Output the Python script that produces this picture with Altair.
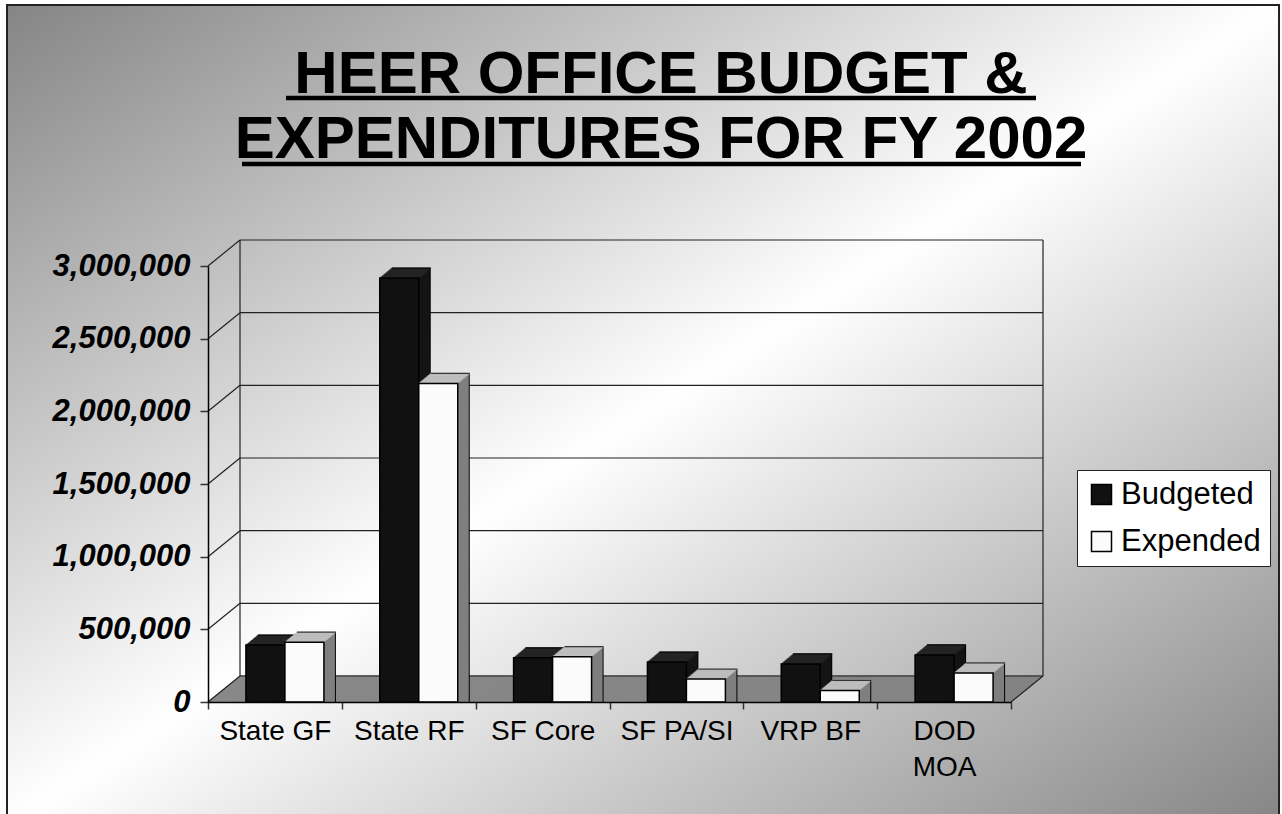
import altair as alt
import pandas as pd

# ---------------- data ----------------
CATEGORIES = ["State GF", "State RF", "SF Core", "SF PA/SI", "VRP BF", "DOD MOA"]
SERIES = ["Budgeted", "Expended"]
BUDGETED = [330000, 2855000, 242000, 213000, 200000, 262000]
EXPENDED = [350000, 2130000, 250000, 96000, 18000, 138000]
Y_TICKS = [0, 500000, 1000000, 1500000, 2000000, 2500000, 3000000]
TITLE_LINES = ["HEER OFFICE BUDGET & ", "EXPENDITURES FOR FY 2002"]

# ---------------- layout / style ----------------
W, H = 803, 436
PAD_L, PAD_T = 208, 266
PAD_R, PAD_B = 1282 - PAD_L - W, 814 - PAD_T - H
DX, DY = 32, 26            # depth of the 3-D box (px)
BAR_W = 39
BAR_DX, BAR_DY = 10, 9     # depth at which bars stand
STEPS = 12                 # bar depth in px (x)
RY = 10 / 12               # bar depth y per x-step
FONT = "Liberation Sans"

rows = []
for c, b, e in zip(CATEGORIES, BUDGETED, EXPENDED):
    rows.append({"category": c, "series": SERIES[0], "value": b})
    rows.append({"category": c, "series": SERIES[1], "value": e})
bars = pd.DataFrame(rows)
ticks = pd.DataFrame({"v": Y_TICKS})
lohi = pd.DataFrame({"lo": [Y_TICKS[0]], "hi": [Y_TICKS[-1]]})
one = pd.DataFrame({"a": [1]})

y_scale = alt.Scale(domain=[Y_TICKS[0], Y_TICKS[-1]], nice=False, zero=True)
y_axis = alt.Axis(values=Y_TICKS, labelExpr="format(datum.value, ',')", title=None, grid=False,
                  domainColor="black", domainWidth=1.5, tickColor="#333",
                  tickSize=8, tickWidth=1.5, labelFont=FONT, labelFontSize=31,
                  labelFontWeight="bold", labelFontStyle="italic",
                  labelColor="black", labelPadding=10, zindex=1)
x_axis = alt.Axis(title=None, labelAngle=0, tickBand="extent", grid=False,
                  domainColor="black", domainWidth=1.5, tickColor="#333",
                  tickSize=7, tickWidth=1.5, labelFont=FONT, labelFontSize=28,
                  labelColor="black", labelPadding=8, labelLineHeight=36,
                  labelExpr="datum.label == 'DOD MOA' ? ['DOD', 'MOA'] : datum.label",
                  zindex=1)


def Yf(field, stack=False):
    if stack:
        return alt.Y(field, type="quantitative", scale=y_scale, axis=y_axis, stack=None)
    return alt.Y(field, type="quantitative", scale=y_scale, axis=y_axis)


def Xc():
    return alt.X("category:N", sort=CATEGORIES,
                 scale=alt.Scale(paddingInner=0, paddingOuter=0), axis=x_axis)


layers = []

# page background
bg_grad = alt.LinearGradient(
    gradient="linear", x1=0, y1=0, x2=1, y2=1,
    stops=[alt.GradientStop(color="#858585", offset=0),
           alt.GradientStop(color="#ffffff", offset=0.5),
           alt.GradientStop(color="#858585", offset=1)])
layers.append(alt.Chart(one).mark_rect(fill=bg_grad, stroke="#222", strokeWidth=2).encode(
    x=alt.value(7 - PAD_L), x2=alt.value(1279 - PAD_L),
    y=alt.value(5 - PAD_T), y2=alt.value(814 - PAD_T + 10)))

# floor (gray parallelogram)
for k in range(DY + 1):
    layers.append(alt.Chart(lohi).mark_rule(color="#808080", strokeWidth=1.6, yOffset=-k).encode(
        x=alt.value(k * DX / DY), x2=alt.value(W + k * DX / DY), y=Yf("lo")))

# back-wall gridlines
layers.append(alt.Chart(ticks).mark_rule(color="#222", strokeWidth=1.2, yOffset=-DY).encode(
    x=alt.value(DX), x2=alt.value(W + DX), y=Yf("v")))
# side-wall diagonals
layers.append(alt.Chart(ticks).mark_rule(color="#222", strokeWidth=1.2, y2Offset=-DY).encode(
    x=alt.value(0), x2=alt.value(DX), y=Yf("v"), y2=alt.Y2("v")))
# back-wall verticals
for xv in (DX, W + DX):
    layers.append(alt.Chart(lohi).mark_rule(color="#222", strokeWidth=1.2, yOffset=-DY, y2Offset=-DY).encode(
        x=alt.value(xv), y=Yf("lo"), y2=alt.Y2("hi")))
# floor right diagonal
layers.append(alt.Chart(lohi).mark_rule(color="#222", strokeWidth=1.2, y2Offset=-DY).encode(
    x=alt.value(W), x2=alt.value(W + DX), y=Yf("lo"), y2=alt.Y2("lo")))

# bars (faux 3-D)
SIDE = {"Budgeted": "#141414", "Expended": "#7f7f7f"}
TOP = {"Budgeted": "#262626", "Expended": "#c4c4c4"}
FRONT = {"Budgeted": "#111111", "Expended": "#fbfbfb"}
color_enc = alt.Color("series:N",
                      scale=alt.Scale(domain=SERIES, range=[FRONT[s] for s in SERIES]),
                      legend=alt.Legend(title=None, orient="none", legendX=869, legendY=204,
                                        fillColor="white", strokeColor="#222", padding=9,
                                        labelFont=FONT, labelFontSize=31, labelColor="black",
                                        symbolType="square", symbolSize=400,
                                        symbolStrokeColor="black", symbolStrokeWidth=1.5,
                                        rowPadding=15, labelOffset=4))

for si, s in enumerate(SERIES):
    c = BAR_DX + (si - 0.5) * BAR_W
    base = alt.Chart(bars).transform_filter(alt.datum.series == s)
    for k in range(STEPS, 0, -1):
        col = "black" if k == STEPS else SIDE[s]
        off = -BAR_DY - k * RY
        layers.append(base.mark_bar(width=BAR_W, color=col, xOffset=c + k,
                                    yOffset=off, y2Offset=off).encode(
            x=Xc(), y=Yf("value", True)))
    for k in range(STEPS, -1, -1):
        off = -BAR_DY - k * RY
        layers.append(base.mark_tick(size=BAR_W, thickness=1.8, color=TOP[s],
                                     xOffset=c + k, yOffset=off).encode(
            x=Xc(), y=Yf("value")))
    layers.append(base.mark_tick(size=BAR_W, thickness=1.3, color="black",
                                 xOffset=c + STEPS, yOffset=-BAR_DY - STEPS * RY).encode(
        x=Xc(), y=Yf("value")))
    layers.append(base.mark_bar(width=BAR_W, stroke="black", strokeWidth=1.5, xOffset=c,
                                yOffset=-BAR_DY, y2Offset=-BAR_DY, opacity=1).encode(
        x=Xc(), y=Yf("value", True), color=color_enc))

# title
TITLE_X = 661 - PAD_L
for line, yb, ux1, ux2, uy in [(TITLE_LINES[0], 93, 286, 1036, 98),
                               (TITLE_LINES[1], 158, 242, 1081, 164)]:
    layers.append(alt.Chart(one).mark_text(text=line, font=FONT, fontSize=60, fontWeight="bold",
                                           color="black", align="center", baseline="alphabetic").encode(
        x=alt.value(TITLE_X), y=alt.value(yb - PAD_T)))
    layers.append(alt.Chart(one).mark_rule(color="black", strokeWidth=4.5).encode(
        x=alt.value(ux1 - PAD_L), x2=alt.value(ux2 - PAD_L), y=alt.value(uy - PAD_T)))

chart = alt.layer(*layers).properties(
    width=W, height=H, autosize="none",
    padding={"left": PAD_L, "top": PAD_T, "right": PAD_R, "bottom": PAD_B},
    background="white",
).configure_view(stroke=None)

chart.save("out.html", embed_options={"renderer": "svg", "actions": False})
